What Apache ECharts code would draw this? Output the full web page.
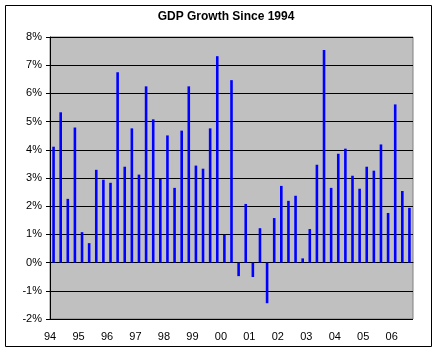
<!DOCTYPE html>
<html>
<head>
<meta charset="utf-8">
<script src="https://cdn.jsdelivr.net/npm/echarts@6/dist/echarts.min.js"></script>
<style>
html,body{margin:0;padding:0;background:#fff;}
#c{width:438px;height:355px;}
</style>
</head>
<body>
<div id="c"></div>
<script>
var quarters = [];
var years = ['94','95','96','97','98','99','00','01','02','03','04','05','06'];
years.forEach(function(y){ for (var q=1;q<=4;q++) quarters.push(y+'Q'+q); });
quarters = quarters.slice(0, 51);

var growth = [
  4.11, 5.33, 2.26, 4.79,
  1.08, 0.69, 3.29, 2.94,
  2.83, 6.75, 3.40, 4.76,
  3.12, 6.25, 5.08, 2.97,
  4.51, 2.65, 4.68, 6.25,
  3.44, 3.33, 4.76, 7.32,
  0.99, 6.47, -0.48, 2.08,
  -0.51, 1.22, -1.44, 1.58,
  2.72, 2.19, 2.37, 0.15,
  1.19, 3.47, 7.54, 2.65,
  3.86, 4.04, 3.08, 2.62,
  3.40, 3.26, 4.19, 1.76,
  5.61, 2.54, 1.94
];

var chart = echarts.init(document.getElementById('c'), null, {renderer:'canvas'});
chart.setOption({
  animation: false,
  backgroundColor: '#ffffff',
  graphic: [
    {type:'rect', shape:{x:5.5, y:5.5, width:426, height:341}, style:{fill:'none', stroke:'#000', lineWidth:1}, z:-10},
    {type:'text', x:226, y:17, style:{text:'GDP Growth Since 1994', fill:'#000', font:'bold 12px Arial', textAlign:'center', textVerticalAlign:'middle'}}
  ],
  grid: {left:50, right:25, top:37, bottom:36, show:true, backgroundColor:'#C0C0C0', borderColor:'#808080', borderWidth:1},
  xAxis: {
    type:'category', data: quarters, boundaryGap:true,
    axisLine:{show:true, lineStyle:{color:'#000', width:1}},
    axisTick:{show:false},
    splitLine:{show:false},
    axisLabel:{interval:3, margin:12, color:'#000', fontFamily:'Arial', fontSize:11, padding:[0,7,0,0],
      formatter:function(v){ return v.slice(0,2); }}
  },
  yAxis: {
    type:'value', min:-2, max:8, interval:1,
    axisLine:{show:true, lineStyle:{color:'#000', width:1}},
    axisTick:{show:true, length:4, lineStyle:{color:'#000'}},
    splitLine:{show:true, lineStyle:{color:'#000', width:1}},
    axisLabel:{color:'#000', fontFamily:'Arial', fontSize:11, margin:8, formatter:'{value}%'}
  },
  series: [{
    type:'bar', data: growth, barWidth:2.6,
    itemStyle:{color:'#0000FF'}
  }]
});
</script>
</body>
</html>
